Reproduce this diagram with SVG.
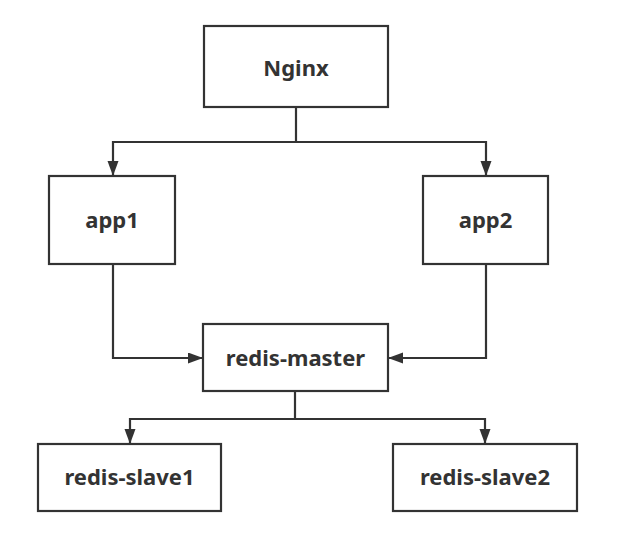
<svg xmlns="http://www.w3.org/2000/svg" width="618" height="537" viewBox="0 0 618 537">
<style>
.box{fill:#fff;stroke:#333;stroke-width:2.2}
.lbl{font-family:"Noto Sans","Open Sans",sans-serif;font-weight:bold;font-size:22px;fill:#333;text-anchor:middle}
.conn{fill:none;stroke:#333;stroke-width:2.2}
</style>
<defs>
<marker id="arr" markerUnits="userSpaceOnUse" markerWidth="16" markerHeight="12" refX="15" refY="5.5" orient="auto">
<path d="M0,0 L15,5.5 L0,11 Z" fill="#333"/>
</marker>
</defs>
<rect width="618" height="537" fill="#fff"/>
<g id="connectors">
<path class="conn" d="M296,107 V142 H113 V176" marker-end="url(#arr)"/>
<path class="conn" d="M296,142 H486 V176" marker-end="url(#arr)"/>
<path class="conn" d="M113,264 V358 H203" marker-end="url(#arr)"/>
<path class="conn" d="M486,264 V358 H388" marker-end="url(#arr)"/>
<path class="conn" d="M295,391 V419 H130 V444" marker-end="url(#arr)"/>
<path class="conn" d="M295,419 H485 V444" marker-end="url(#arr)"/>
</g>
<g id="nginx"><rect class="box" x="204" y="26" width="184" height="81"/><text class="lbl" x="296" y="76">Nginx</text></g>
<g id="app1"><rect class="box" x="49" y="176" width="126" height="88"/><text class="lbl" x="112" y="228">app1</text></g>
<g id="app2"><rect class="box" x="423" y="176" width="125" height="88"/><text class="lbl" x="485.5" y="228">app2</text></g>
<g id="redis-master"><rect class="box" x="203" y="324" width="185" height="67"/><text class="lbl" x="295.5" y="366">redis-master</text></g>
<g id="redis-slave1"><rect class="box" x="38" y="444" width="183" height="67"/><text class="lbl" x="129.5" y="485">redis-slave1</text></g>
<g id="redis-slave2"><rect class="box" x="393" y="444" width="184" height="67"/><text class="lbl" x="485" y="485">redis-slave2</text></g>
</svg>
